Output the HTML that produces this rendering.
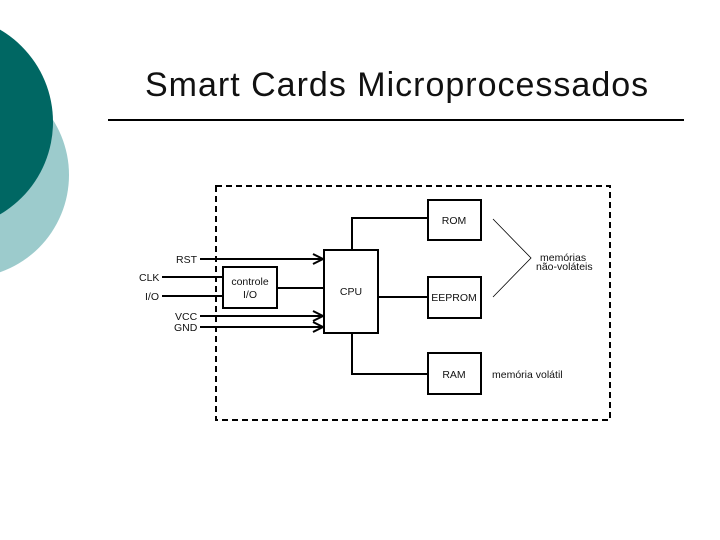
<!DOCTYPE html>
<html><head><meta charset="utf-8"><style>
body{margin:0;width:720px;height:540px;background:#fff;overflow:hidden;position:relative;font-family:"Liberation Sans",sans-serif}
.t{position:absolute;left:145px;top:66px;font-size:34px;letter-spacing:1px;color:#111;white-space:nowrap}
</style></head><body>
<svg width="720" height="540" style="position:absolute;left:0;top:0">
<circle cx="-34" cy="175" r="103" fill="#9ccbcc"/>
<circle cx="-54" cy="122" r="107" fill="#006763"/>
<line x1="108" y1="120" x2="684" y2="120" stroke="#000" stroke-width="2"/>
<rect x="216" y="186" width="394" height="234" fill="none" stroke="#000" stroke-width="2" stroke-dasharray="6,4"/>
<g fill="none" stroke="#000" stroke-width="2">
<rect x="428" y="200" width="53" height="40"/>
<rect x="324" y="250" width="54" height="83"/>
<rect x="223" y="267" width="54" height="41"/>
<rect x="428" y="277" width="53" height="41"/>
<rect x="428" y="353" width="53" height="41"/>
<polyline points="352,250 352,218 428,218"/>
<polyline points="352,333 352,374 428,374"/>
<line x1="378" y1="297" x2="428" y2="297"/>
<line x1="277" y1="288" x2="324" y2="288"/>
<line x1="200" y1="259" x2="322" y2="259"/>
<line x1="162" y1="277" x2="223" y2="277"/>
<line x1="162" y1="296" x2="223" y2="296"/>
<line x1="200" y1="316" x2="322" y2="316"/>
<line x1="200" y1="327" x2="322" y2="327"/>
<polyline points="313,254 323,259 313,264"/>
<polyline points="313,311 323,316 313,321"/>
<polyline points="313,322 323,327 313,332"/>
<polyline points="493,219 531,258 493,297" stroke-width="0.8"/>
</g>
<g font-size="10.5" fill="#111" font-family="Liberation Sans,sans-serif">
<text x="176" y="263">RST</text>
<text x="139" y="281">CLK</text>
<text x="145" y="300">I/O</text>
<text x="175" y="320">VCC</text>
<text x="174" y="331">GND</text>
<text x="250" y="285" text-anchor="middle">controle</text>
<text x="250" y="298" text-anchor="middle">I/O</text>
<text x="351" y="295" text-anchor="middle">CPU</text>
<text x="454" y="224" text-anchor="middle">ROM</text>
<text x="454" y="301" text-anchor="middle">EEPROM</text>
<text x="454" y="378" text-anchor="middle">RAM</text>
<text x="540" y="261">memórias</text>
<text x="536" y="270">não-voláteis</text>
<text x="492" y="378">memória volátil</text>
</g>
</svg>
<div class="t">Smart Cards Microprocessados</div>
</body></html>
